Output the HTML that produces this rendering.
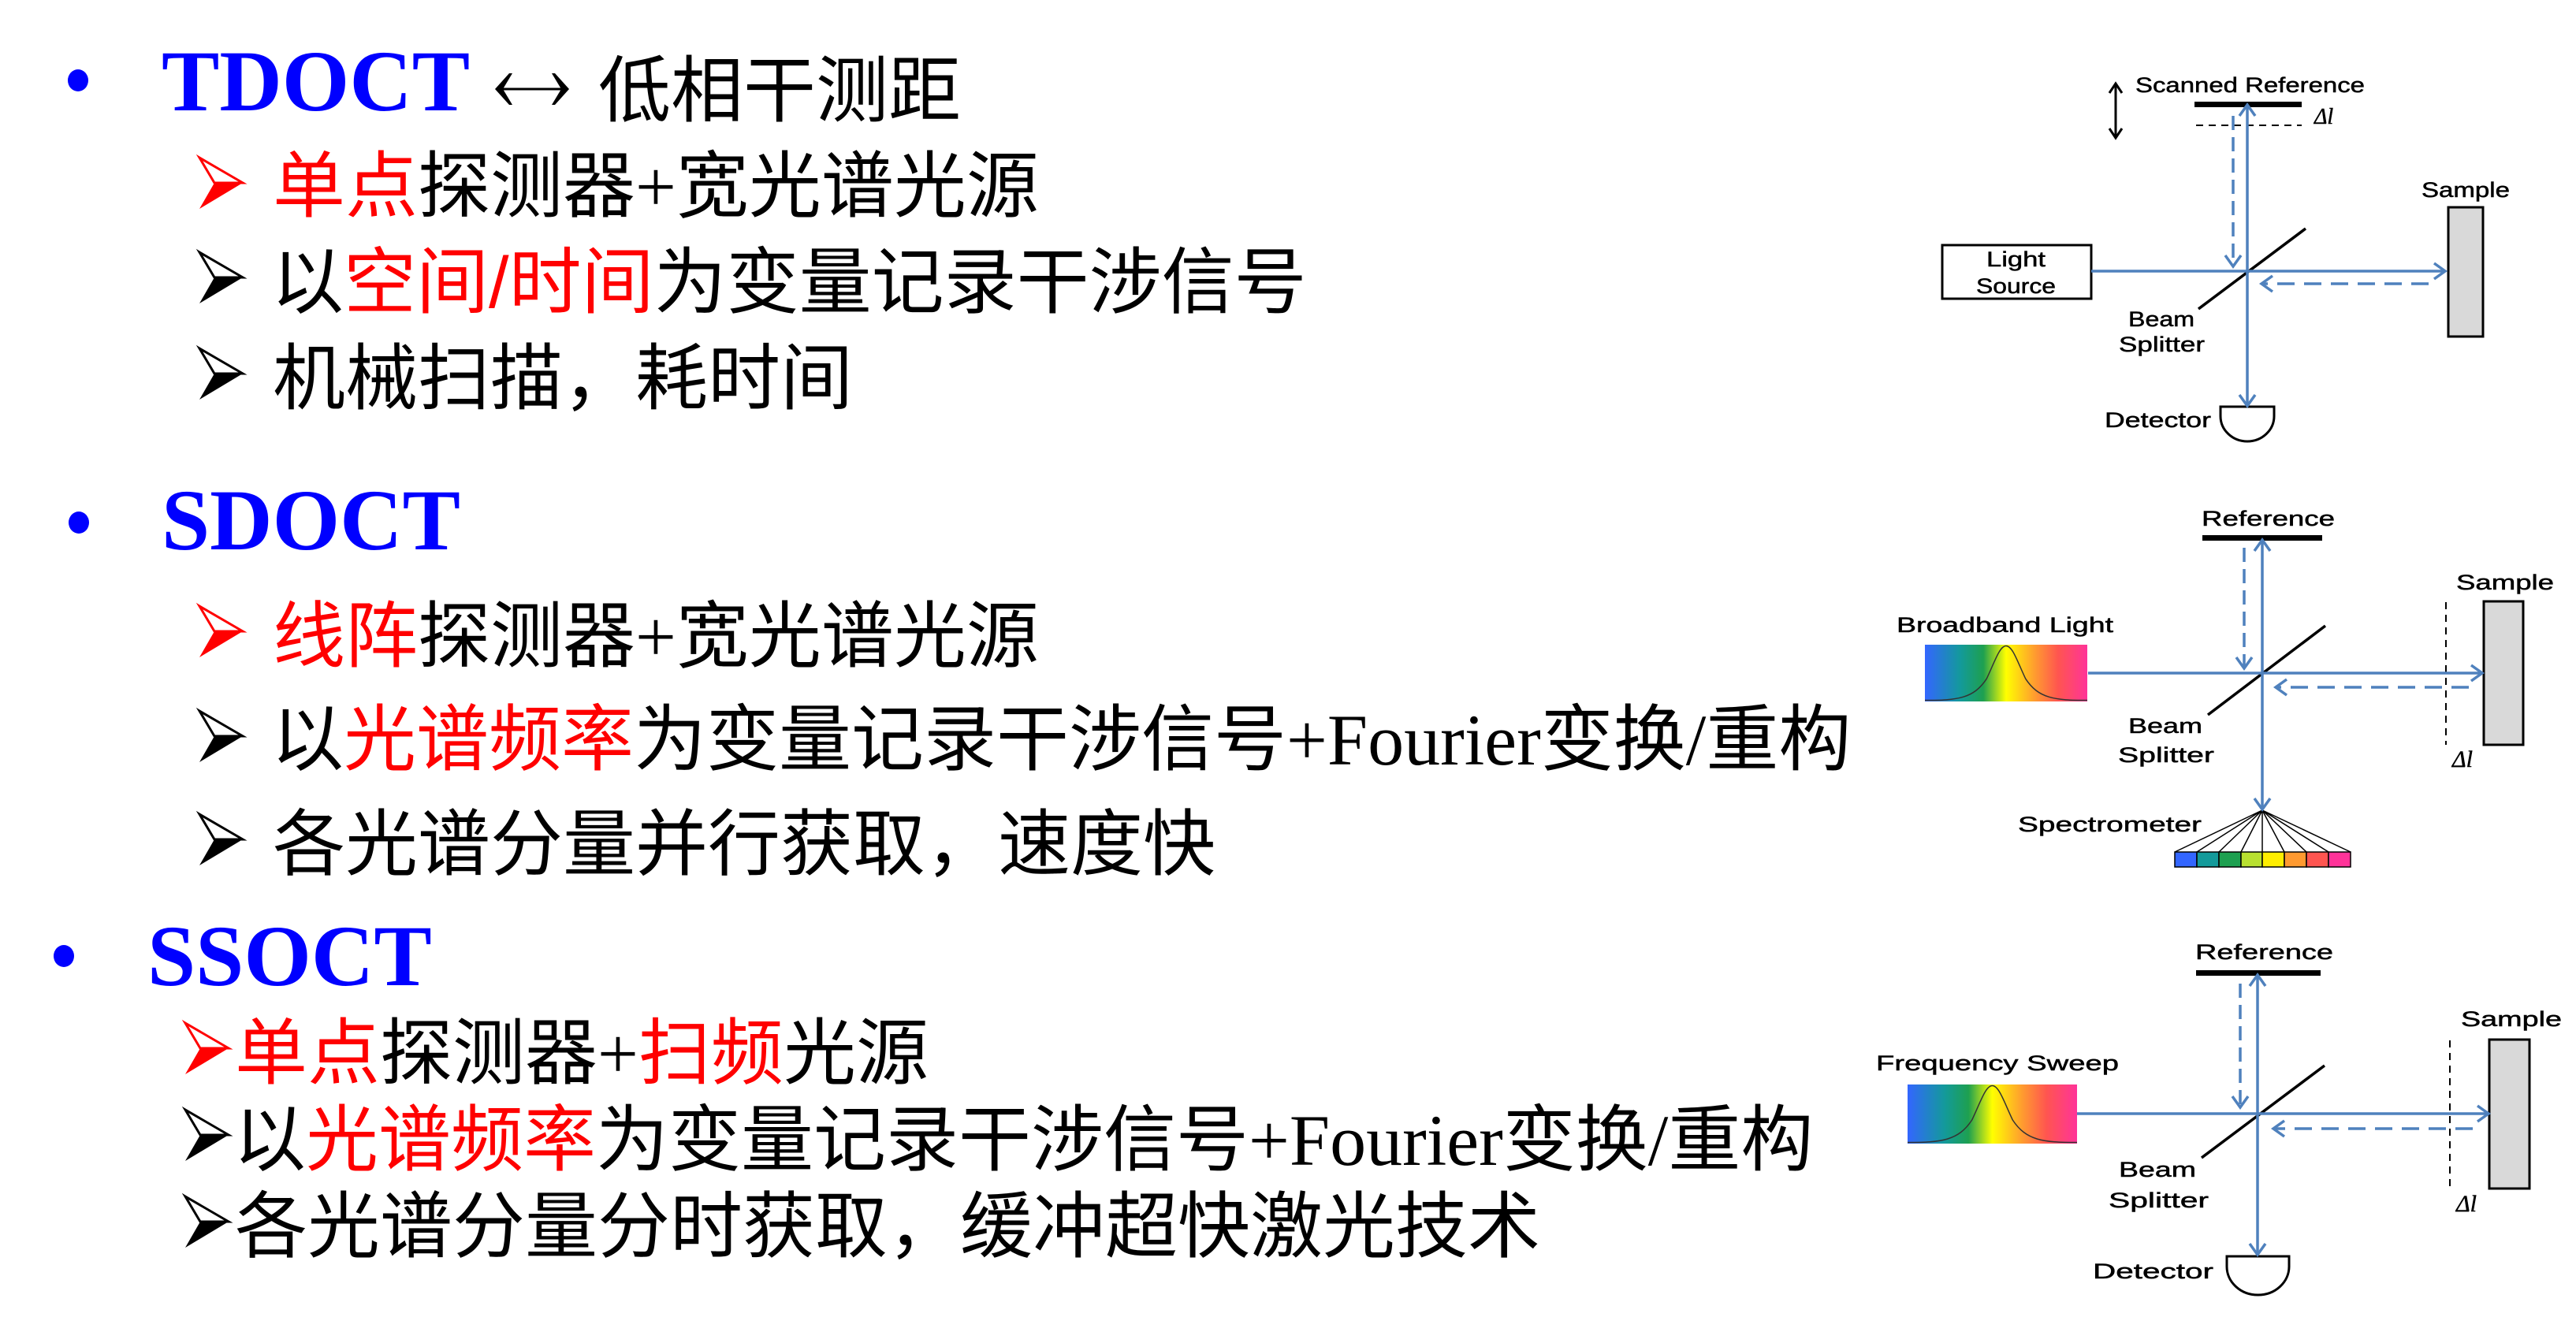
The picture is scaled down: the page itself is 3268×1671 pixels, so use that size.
<!DOCTYPE html>
<html><head><meta charset="utf-8"><style>
html,body{margin:0;padding:0;background:#fff;}
body{width:3268px;height:1671px;position:relative;overflow:hidden;}
.t{position:absolute;white-space:nowrap;font-family:"Liberation Sans","Noto Sans CJK SC",sans-serif;font-size:92px;line-height:1;color:#000;}
.h{position:absolute;white-space:nowrap;font-family:"Liberation Serif",serif;font-weight:bold;font-size:110px;line-height:1;color:#0000ff;}
.r{color:#ff0000;}
.s{font-family:"Liberation Serif",serif;}
svg{position:absolute;left:0;top:0;}
</style></head><body>
<div class="h" style="left:205px;top:48px;">TDOCT</div>
<div class="t" style="left:759px;top:70px;">低相干测距</div>
<div class="t" style="left:346px;top:191px;"><span class="r">单点</span>探测器<span class="s">+</span>宽光谱光源</div>
<div class="t" style="left:344px;top:313px;">以<span class="r">空间/时间</span>为变量记录干涉信号</div>
<div class="t" style="left:346px;top:435px;">机械扫描，耗时间</div>

<div class="h" style="left:205px;top:605px;">SDOCT</div>
<div class="t" style="left:346px;top:762px;"><span class="r">线阵</span>探测器<span class="s">+</span>宽光谱光源</div>
<div class="t" style="left:344px;top:893px;">以<span class="r">光谱频率</span>为变量记录干涉信号<span class="s">+Fourier</span>变换<span class="s">/</span>重构</div>
<div class="t" style="left:346px;top:1026px;">各光谱分量并行获取，速度快</div>

<div class="h" style="left:187px;top:1158px;">SSOCT</div>
<div class="t" style="left:298px;top:1291px;"><span class="r">单点</span>探测器<span class="s">+</span><span class="r">扫频</span>光源</div>
<div class="t" style="left:296px;top:1401px;">以<span class="r">光谱频率</span>为变量记录干涉信号<span class="s">+Fourier</span>变换<span class="s">/</span>重构</div>
<div class="t" style="left:298px;top:1511px;">各光谱分量分时获取，缓冲超快激光技术</div>

<svg width="3268" height="1671" viewBox="0 0 3268 1671" xmlns="http://www.w3.org/2000/svg">
<defs>
<linearGradient id="spec" x1="0" x2="1" y1="0" y2="0">
<stop offset="0" stop-color="#3366ff"/><stop offset="0.22" stop-color="#139a9a"/>
<stop offset="0.36" stop-color="#1ea050"/><stop offset="0.5" stop-color="#ffff00"/>
<stop offset="0.68" stop-color="#ff9a30"/><stop offset="0.82" stop-color="#ff5550"/>
<stop offset="1" stop-color="#ff3399"/></linearGradient>
<g id="arrR"><polygon points="0,0 55,32 0,65 19,32" fill="#000"/><polygon points="0,0 55,32 19,32" fill="#fff" stroke="#000" stroke-width="3"/></g>
<g id="arrRr"><polygon points="0,0 55,32 0,65 19,32" fill="#f00"/><polygon points="0,0 55,32 19,32" fill="#fff" stroke="#f00" stroke-width="3"/></g>
</defs>
<!-- double arrow ↔ -->
<path d="M630,113 H720" stroke="#000" stroke-width="3"/>
<path d="M646,93 L628,113 L646,133 L650,133 L638,113 L650,93 Z" fill="#000"/>
<path d="M704,93 L722,113 L704,133 L700,133 L712,113 L700,93 Z" fill="#000"/>
<!-- bullets -->
<ellipse cx="99" cy="102" rx="13" ry="14" fill="#0000ff"/>
<ellipse cx="100" cy="663" rx="13" ry="14" fill="#0000ff"/>
<ellipse cx="81" cy="1213" rx="13" ry="14" fill="#0000ff"/>
<!-- arrows -->
<use href="#arrRr" x="253" y="200"/>
<use href="#arrR" x="253" y="320"/>
<use href="#arrR" x="253" y="442"/>
<use href="#arrRr" x="253" y="769"/>
<use href="#arrR" x="253" y="902"/>
<use href="#arrR" x="253" y="1033"/>
<use href="#arrRr" x="235" y="1298"/>
<use href="#arrR" x="235" y="1408"/>
<use href="#arrR" x="235" y="1518"/>

<g font-family="Liberation Sans, sans-serif" font-size="27" fill="#000" stroke="#000" stroke-width="0.5">
<!-- Diagram 1 -->
<text x="2709" y="117" textLength="291" lengthAdjust="spacingAndGlyphs">Scanned Reference</text>
<text x="2936" y="157" font-family="Liberation Serif, serif" font-style="italic" font-size="28">Δl</text>
<text x="2520" y="338" textLength="75" lengthAdjust="spacingAndGlyphs">Light</text>
<text x="2507" y="372" textLength="101" lengthAdjust="spacingAndGlyphs">Source</text>
<text x="3072" y="250" textLength="112" lengthAdjust="spacingAndGlyphs">Sample</text>
<text x="2700" y="414" textLength="84" lengthAdjust="spacingAndGlyphs">Beam</text>
<text x="2688" y="446" textLength="109" lengthAdjust="spacingAndGlyphs">Splitter</text>
<text x="2670" y="542" textLength="135" lengthAdjust="spacingAndGlyphs">Detector</text>
<!-- Diagram 2 -->
<text x="2793" y="667" textLength="169" lengthAdjust="spacingAndGlyphs">Reference</text>
<text x="2406" y="802" textLength="275" lengthAdjust="spacingAndGlyphs">Broadband Light</text>
<text x="3116" y="748" textLength="124" lengthAdjust="spacingAndGlyphs">Sample</text>
<text x="3111" y="973" font-family="Liberation Serif, serif" font-style="italic" font-size="30">Δl</text>
<text x="2700" y="930" textLength="94" lengthAdjust="spacingAndGlyphs">Beam</text>
<text x="2687" y="967" textLength="122" lengthAdjust="spacingAndGlyphs">Splitter</text>
<text x="2560" y="1055" textLength="233" lengthAdjust="spacingAndGlyphs">Spectrometer</text>
<!-- Diagram 3 -->
<text x="2785" y="1217" textLength="175" lengthAdjust="spacingAndGlyphs">Reference</text>
<text x="2380" y="1358" textLength="308" lengthAdjust="spacingAndGlyphs">Frequency Sweep</text>
<text x="3122" y="1302" textLength="128" lengthAdjust="spacingAndGlyphs">Sample</text>
<text x="3116" y="1537" font-family="Liberation Serif, serif" font-style="italic" font-size="30">Δl</text>
<text x="2688" y="1493" textLength="98" lengthAdjust="spacingAndGlyphs">Beam</text>
<text x="2675" y="1532" textLength="127" lengthAdjust="spacingAndGlyphs">Splitter</text>
<text x="2655" y="1622" textLength="153" lengthAdjust="spacingAndGlyphs">Detector</text>
</g>

<!-- Diagram 1 shapes -->
<g fill="none" stroke="#000">
<rect x="2464" y="311" width="189" height="68" stroke-width="3"/>
<rect x="3106" y="263" width="44" height="164" fill="#d9d9d9" stroke-width="3"/>
<line x1="2789" y1="392" x2="2925" y2="290" stroke-width="3.5"/>
<line x1="2786" y1="159" x2="2920" y2="159" stroke-width="2" stroke-dasharray="9 7"/>
<path d="M2684,107 V174 M2676,118 L2684,106 L2692,118 M2676,163 L2684,175 L2692,163" stroke-width="3"/>
<path d="M2817,516 H2885 V528 A34,32 0 0 1 2817,528 Z" stroke-width="3" fill="#fff"/>
</g>
<rect x="2784" y="129" width="136" height="7" fill="#000"/>
<g fill="none" stroke="#4f81bd" stroke-width="3.5">
<line x1="2653" y1="344" x2="3102" y2="344"/>
<line x1="2851" y1="133" x2="2851" y2="515"/>
<line x1="2833" y1="147" x2="2833" y2="335" stroke-dasharray="18 9"/>
<line x1="3081" y1="360" x2="2871" y2="360" stroke-dasharray="22 12"/>
<path d="M2841,147 L2851,133 L2861,147 M2841,501 L2851,515 L2861,501 M3088,334 L3102,344 L3088,354 M2823,324 L2833,338 L2843,324 M2883,350 L2869,360 L2883,370"/>
</g>

<!-- Diagram 2 shapes -->
<rect x="2442" y="818" width="206" height="72" fill="url(#spec)"/>
<svg x="2442" y="818" width="206" height="72" viewBox="0 0 100 100" preserveAspectRatio="none"><path d="M0,98 C20,98 30,95 38,60 C43,30 46,2 50,2 C54,2 57,30 62,60 C70,95 80,98 100,98" fill="none" stroke="#333" stroke-width="1.5" vector-effect="non-scaling-stroke"/></svg>
<g fill="none" stroke="#000">
<rect x="3151" y="763" width="50" height="182" fill="#d9d9d9" stroke-width="3"/>
<line x1="2801" y1="907" x2="2950" y2="794" stroke-width="3.5"/>
<line x1="3103" y1="764" x2="3103" y2="945" stroke-width="2" stroke-dasharray="9 7"/>
</g>
<rect x="2794" y="679" width="152" height="7" fill="#000"/>
<g stroke="#000" stroke-width="1.5" fill="none">
<path d="M2870,1028 L2759,1081 M2870,1028 L2787,1081 M2870,1028 L2815,1081 M2870,1028 L2843,1081 M2870,1028 L2870,1081 M2870,1028 L2898,1081 M2870,1028 L2926,1081 M2870,1028 L2954,1081 M2870,1028 L2982,1081"/>
</g>
<g stroke="#000" stroke-width="1.5">
<rect x="2759" y="1081" width="28" height="19" fill="#3366ff"/>
<rect x="2787" y="1081" width="28" height="19" fill="#139a9a"/>
<rect x="2815" y="1081" width="28" height="19" fill="#1ea050"/>
<rect x="2843" y="1081" width="27" height="19" fill="#b8e030"/>
<rect x="2870" y="1081" width="28" height="19" fill="#ffee00"/>
<rect x="2898" y="1081" width="28" height="19" fill="#ff9a30"/>
<rect x="2926" y="1081" width="28" height="19" fill="#ff5550"/>
<rect x="2954" y="1081" width="28" height="19" fill="#ff3399"/>
</g>
<g fill="none" stroke="#4f81bd" stroke-width="3.5">
<line x1="2649" y1="854" x2="3149" y2="854"/>
<line x1="2870" y1="685" x2="2870" y2="1027"/>
<line x1="2847" y1="695" x2="2847" y2="846" stroke-dasharray="18 9"/>
<line x1="3132" y1="872" x2="2889" y2="872" stroke-dasharray="22 12"/>
<path d="M2860,699 L2870,685 L2880,699 M2860,1013 L2870,1027 L2880,1013 M3135,844 L3149,854 L3135,864 M2837,834 L2847,848 L2857,834 M2901,862 L2887,872 L2901,882"/>
</g>

<!-- Diagram 3 shapes -->
<rect x="2420" y="1376" width="215" height="75" fill="url(#spec)"/>
<svg x="2420" y="1376" width="215" height="75" viewBox="0 0 100 100" preserveAspectRatio="none"><path d="M0,98 C20,98 30,95 38,60 C43,30 46,2 50,2 C54,2 57,30 62,60 C70,95 80,98 100,98" fill="none" stroke="#333" stroke-width="1.5" vector-effect="non-scaling-stroke"/></svg>
<g fill="none" stroke="#000">
<rect x="3158" y="1319" width="51" height="189" fill="#d9d9d9" stroke-width="3"/>
<line x1="2793" y1="1469" x2="2949" y2="1352" stroke-width="3.5"/>
<line x1="3108" y1="1320" x2="3108" y2="1508" stroke-width="2" stroke-dasharray="9 7"/>
<path d="M2825,1594 H2904 V1607 A39.5,36 0 0 1 2825,1607 Z" stroke-width="3" fill="#fff"/>
</g>
<rect x="2786" y="1231" width="158" height="7" fill="#000"/>
<g fill="none" stroke="#4f81bd" stroke-width="3.5">
<line x1="2635" y1="1413" x2="3157" y2="1413"/>
<line x1="2864" y1="1237" x2="2864" y2="1592"/>
<line x1="2842" y1="1248" x2="2842" y2="1403" stroke-dasharray="18 9"/>
<line x1="3137" y1="1432" x2="2886" y2="1432" stroke-dasharray="22 12"/>
<path d="M2854,1251 L2864,1237 L2874,1251 M2854,1578 L2864,1592 L2874,1578 M3143,1403 L3157,1413 L3143,1423 M2832,1391 L2842,1405 L2852,1391 M2898,1422 L2884,1432 L2898,1442"/>
</g>
</svg>
</body></html>
